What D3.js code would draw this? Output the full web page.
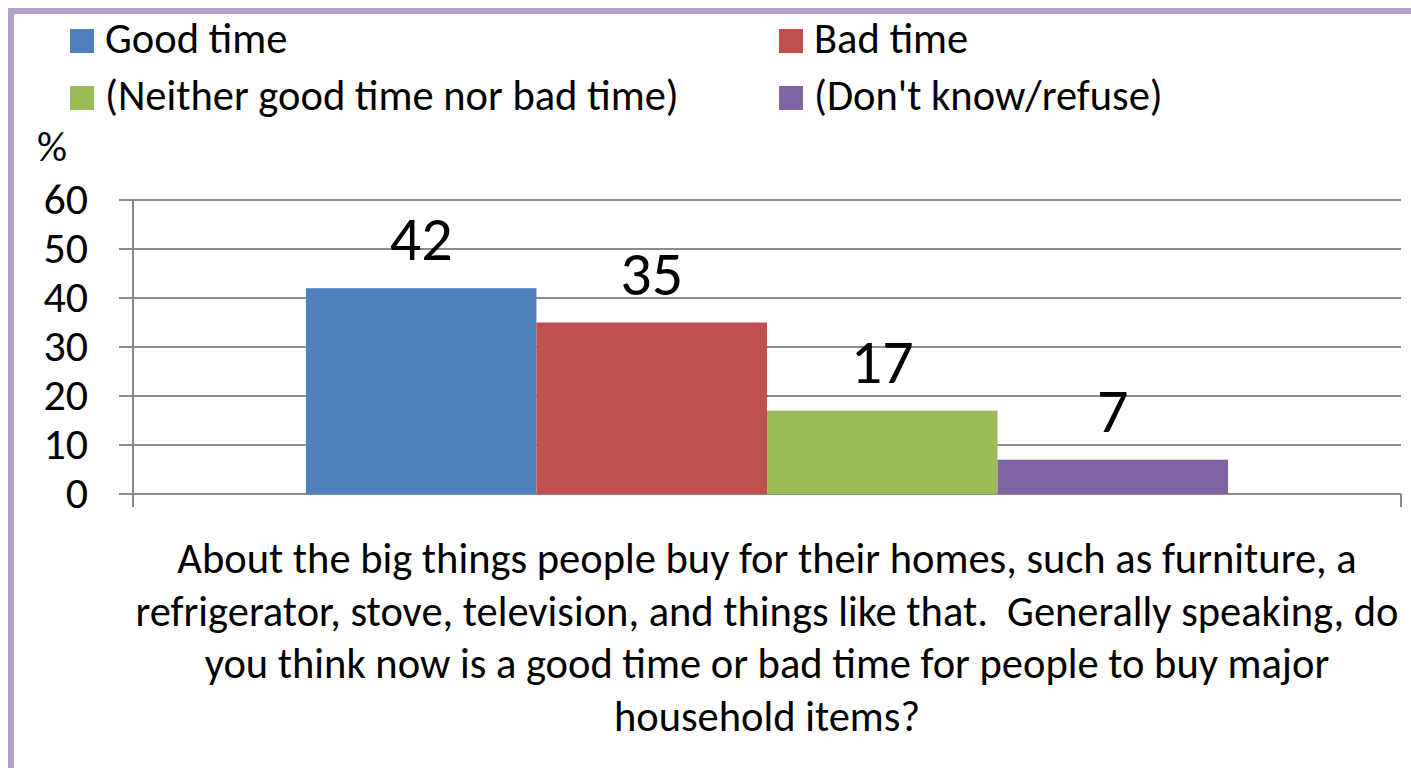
<!DOCTYPE html>
<html>
<head>
<meta charset="utf-8">
<script src="https://cdn.jsdelivr.net/npm/d3@7"></script>
<style>
  body { margin: 0; background: #fff; }
  text { font-family: Carlito, Calibri, Lato, sans-serif; fill: #000; white-space: pre; }
</style>
</head>
<body>
<div id="chart"></div>
<script>
// data
const category = "About the big things people buy for their homes, such as furniture, a refrigerator, stove, television, and things like that.  Generally speaking, do you think now is a good time or bad time for people to buy major household items?";
const categoryLines = [
    "About the big things people buy for their homes, such as furniture, a",
    "refrigerator, stove, television, and things like that.  Generally speaking, do",
    "you think now is a good time or bad time for people to buy major",
    "household items?"
];
const seriesNames = ["Good time", "Bad time", "(Neither good time nor bad time)", "(Don't know/refuse)"];
const seriesValues = [42, 35, 17, 7];
const seriesColors = ["#4F81BD", "#C0504D", "#9BBB59", "#8064A2"];
const yTicks = [0, 10, 20, 30, 40, 50, 60];

const W = 1411, H = 768;
const margin = { top: 200, right: 10, bottom: 274, left: 133 },
    width = W - margin.left - margin.right,
    height = H - margin.top - margin.bottom;

const root = d3.select("#chart")
    .append("svg")
    .attr("width", W)
    .attr("height", H);

// outer frame (purple border, cut off at right/bottom)
root.append("rect")
    .attr("x", 11).attr("y", 11)
    .attr("width", W + 20).attr("height", H + 20)
    .attr("fill", "none")
    .attr("stroke", "#B3A2C7")
    .attr("stroke-width", 6);

const svg = root.append("g")
    .attr("transform", `translate(${margin.left}, ${margin.top})`);

// scales
const y = d3.scaleLinear().domain([0, 60]).range([height, 0]);
// Excel gap width 150%: group of 4 bars, gap = 1.5 bar split on both sides
const barW = width / (seriesValues.length + 1.5);
const groupStart = barW * 0.75;
const x1 = d3.scaleBand().domain(seriesNames).range([groupStart, groupStart + barW * seriesValues.length]);

// gridlines
svg.append("g")
    .selectAll("line")
    .data(yTicks)
    .join("line")
    .attr("x1", -14)
    .attr("x2", width)
    .attr("y1", d => y(d))
    .attr("y2", d => y(d))
    .attr("stroke", "#8C8C8C")
    .attr("stroke-width", 2);

// y axis line + category ticks
svg.append("line")
    .attr("x1", 0).attr("x2", 0)
    .attr("y1", 0).attr("y2", height + 13)
    .attr("stroke", "#868686").attr("stroke-width", 2);
svg.append("line")
    .attr("x1", width).attr("x2", width)
    .attr("y1", height).attr("y2", height + 13)
    .attr("stroke", "#868686").attr("stroke-width", 2);

// y tick labels
svg.append("g")
    .selectAll("text")
    .data(yTicks)
    .join("text")
    .attr("x", -45)
    .attr("y", d => y(d) + 14)
    .attr("text-anchor", "end")
    .style("font-size", "44px")
    .text(d => d);

svg.append("text")
    .attr("x", -96)
    .attr("y", -39)
    .style("font-size", "42px")
    .text("%");

// bars
svg.append("g")
    .selectAll("rect")
    .data(seriesValues)
    .join("rect")
    .attr("x", (d, i) => x1(seriesNames[i]))
    .attr("y", d => y(d))
    .attr("width", x1.bandwidth())
    .attr("height", d => height - y(d))
    .attr("fill", (d, i) => seriesColors[i]);

// data labels
svg.append("g")
    .selectAll("text")
    .data(seriesValues)
    .join("text")
    .attr("x", (d, i) => x1(seriesNames[i]) + x1.bandwidth() / 2)
    .attr("y", d => y(d) - 28)
    .attr("text-anchor", "middle")
    .style("font-size", "62px")
    .text(d => d);

// category label (wrapped)
svg.append("g")
    .selectAll("text")
    .data(categoryLines)
    .join("text")
    .attr("x", width / 2)
    .attr("y", (d, i) => height + 79 + i * 52.5)
    .attr("text-anchor", "middle")
    .style("font-size", "42.5px")
    .text(d => d);

// legend
const legendPos = [[70, 29], [779, 29], [70, 86], [779, 86]];
const legend = root.append("g")
    .selectAll("g")
    .data(seriesNames)
    .join("g")
    .attr("transform", (d, i) => `translate(${legendPos[i][0]}, ${legendPos[i][1]})`);
legend.append("rect")
    .attr("width", 24).attr("height", 24)
    .attr("fill", (d, i) => seriesColors[i]);
legend.append("text")
    .attr("x", 35)
    .attr("y", 24)
    .style("font-size", "42.5px")
    .text(d => d);
</script>
</body>
</html>
